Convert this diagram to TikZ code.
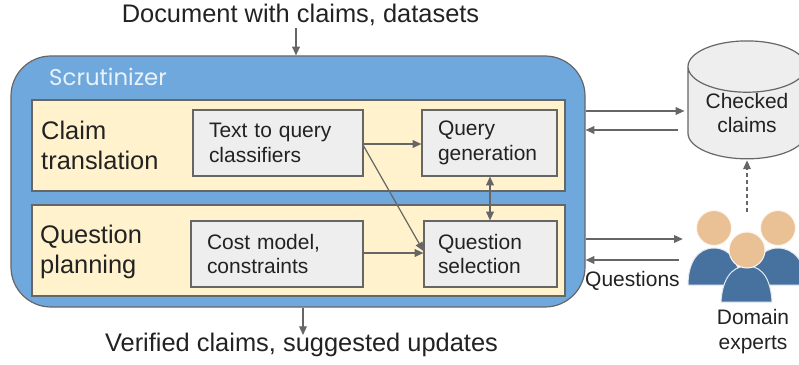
\documentclass[tikz,border=0pt]{standalone}
\usepackage{fontspec}
\setmainfont{Liberation Sans}
\newfontfamily\logofont{Poppins}
\usetikzlibrary{arrows.meta, shapes.geometric}
\definecolor{linegray}{HTML}{666666}
\definecolor{scrblue}{HTML}{6FA8DC}
\definecolor{panelyellow}{HTML}{FFF2CC}
\definecolor{boxgray}{HTML}{EEEEEE}
\definecolor{skin}{HTML}{E9C195}
\definecolor{shirt}{HTML}{47729F}
\definecolor{inktext}{HTML}{222222}
\newcommand{\smalltext}{\fontsize{17.9}{21.3}\selectfont}
\newcommand{\bigtext}{\fontsize{21.7}{25.5}\selectfont}
\begin{document}
\begin{tikzpicture}[x=0.3mm, y=-0.3mm,
	scrutinizer/.style={draw=linegray, line width=0.36mm, fill=scrblue, rounded corners=12mm, minimum width=172.2mm, minimum height=75.3mm},
	panel/.style={draw=linegray, line width=0.36mm, fill=panelyellow, minimum width=159.9mm, minimum height=27.3mm},
	box/.style={draw=linegray, line width=0.36mm, fill=boxgray, align=left, inner xsep=4.8mm, minimum height=19.8mm, text width=#1, text=inktext, font=\smalltext},
	label/.style={align=left, text=inktext, inner sep=0pt, font=\bigtext},
	note/.style={align=center, text=inktext, inner sep=0pt, font=\smalltext},
	flow/.style={draw=linegray, line width=0.36mm, -{Triangle[length=2.6mm, width=2.3mm]}},
	body/.style={fill=shirt, draw=white!85!shirt, line width=0.3mm},
	head/.style={fill=skin, draw=white!85!skin, line width=0.3mm}]
	\useasboundingbox (0,0) rectangle (799,365);

	\node[label] (doc) at (300.5,15) {Document with claims, datasets};
	\node[label] (verified) at (301.5,345) {Verified claims, suggested updates};

	\node[scrutinizer] (scr) at (298,181.5) {};
	\node[text=white!85!scrblue, inner sep=0pt, anchor=west, font=\logofont\fontsize{19.5}{22}\selectfont] (scrname) at (49,77) {Scrutinizer};

	\node[panel] (claimpanel) at (298.5,145.5) {};
	\node[panel] (questionpanel) at (298.5,250.5) {};
	\node[label, anchor=west] (claimlabel) at (41,145) {Claim\\translation};
	\node[label, anchor=west] (questionlabel) at (40,252) {Question\\planning};

	\node[box=41.4mm] (classifiers) at (278,143) {Text to query\\classifiers};
	\node[box=30.9mm] (querygen) at (489.5,143) {Query\\generation};
	\node[box=42mm] (cost) at (277,254) {Cost model,\\constraints};
	\node[box=31.5mm, inner xsep=4.2mm] (questionsel) at (490.5,254) {Question\\selection};

	\node[draw=linegray, line width=0.36mm, fill=boxgray, cylinder, shape border rotate=90, aspect=0.62, minimum height=27.6mm, minimum width=35.4mm, align=center, text=inktext, font=\smalltext, inner sep=0pt] (checked) at (747,113) {Checked\\claims};

	% the three people
	\fill[body] (688,285) .. controls (688,262) and (698,248) .. (714,248) .. controls (730,248) and (740,262) .. (740,285) -- cycle;
	\fill[body] (752,285) .. controls (752,262) and (762,248) .. (778,248) .. controls (794,248) and (806,262) .. (806,285) -- cycle;
	\fill[head] (714,228) circle (17.5);
	\fill[head] (778,228) circle (17.5);
	\fill[body] (721,302) .. controls (722,282) and (730,266) .. (747,266) .. controls (764,266) and (771,282) .. (772,302) -- cycle;
	\fill[head] (747,250) circle (18);
	\node[minimum width=35.4mm, minimum height=27mm, inner sep=0pt] (people) at (747,257) {};

	\node[note] (domain) at (753,332) {Domain\\experts};
	\node[note, anchor=west] (questions) at (585,281) {Questions};

	\coordinate (docin) at (296,28);
	\coordinate (verout) at (303,335);
	\draw[flow] (docin) -- (docin |- scr.north);
	\draw[flow] (verout |- scr.south) -- (verout);

	\draw[flow] (classifiers.east |- 0,144) -- (querygen.west |- 0,144);
	\draw[flow] (classifiers.east |- 0,146) -- (questionsel.west |- 0,251);
	\draw[flow] (cost.east |- 0,253) -- (questionsel.west |- 0,253);
	\draw[flow, {Triangle[length=2.6mm, width=2.3mm]}-{Triangle[length=2.6mm, width=2.3mm]}] (querygen.south -| 490,0) -- (questionsel.north -| 490,0);

	\draw[flow, shorten >=0.9mm] (scr.east |- 0,111) -- (checked.west |- 0,111);
	\draw[flow, shorten <=2.7mm] (checked.west |- 0,130) -- (scr.east |- 0,130);
	\draw[flow, shorten >=1.5mm] (scr.east |- 0,239) -- (people.west |- 0,239);
	\draw[flow, shorten <=2.7mm] (people.west |- 0,260) -- (scr.east |- 0,260);
	\draw[flow, dashed, shorten >=0.3mm] (people.north) -- (checked.south);
\end{tikzpicture}
\end{document}
